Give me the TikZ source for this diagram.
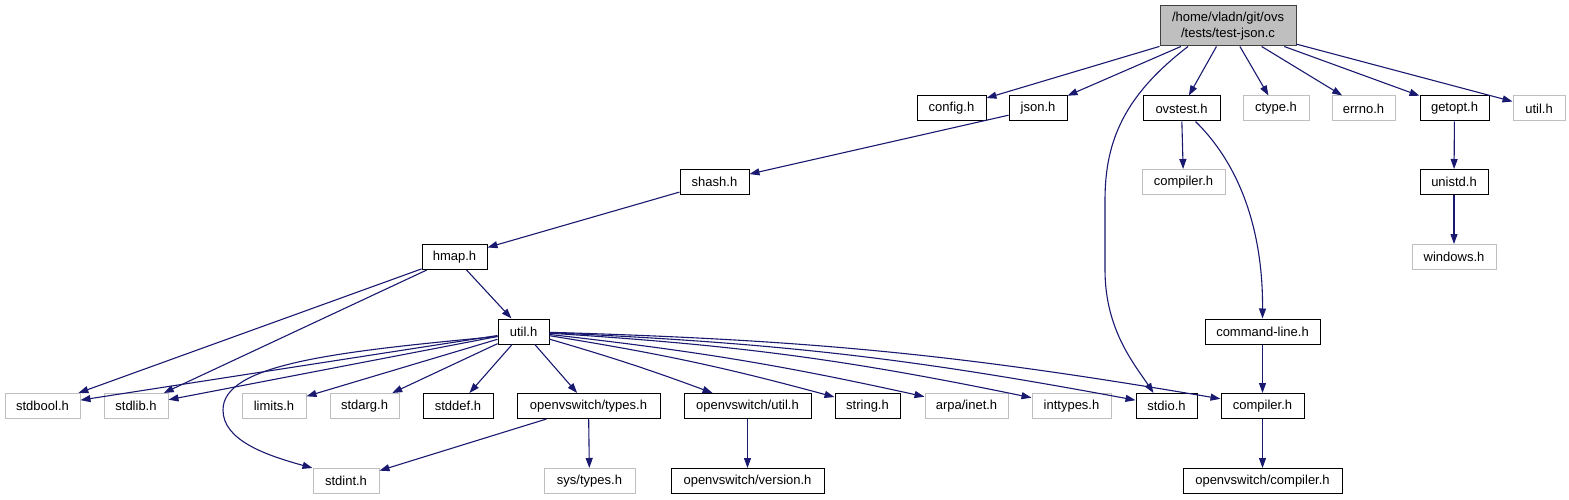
\documentclass[tikz,border=0pt]{standalone}
\usepackage{fontspec}
\setmainfont{Liberation Sans}
\usetikzlibrary{arrows.meta,calc}
\definecolor{edgeblue}{HTML}{191970}
\definecolor{grayb}{HTML}{BFBFBF}
\definecolor{rootborder}{HTML}{404040}
\begin{document}
\begin{tikzpicture}[x=1pt,y=-1pt,
  font=\fontsize{13}{16}\selectfont,
  base/.style={rectangle, inner sep=0pt, line width=1pt, fill=white, minimum height=25pt},
  doc/.style={base, draw=black},
  undoc/.style={base, draw=grayb},
  rootnode/.style={base, draw=rootborder, fill=grayb, align=center, minimum height=40pt},
  dep/.style={draw=edgeblue, line width=1.1pt, -{Triangle[length=10pt,width=7pt]}}
]
\useasboundingbox (0,0) rectangle (1569,500);

% root
\node[rootnode, minimum width=136pt] (root) at (1228,26) {/home/vladn/git/ovs\\/tests/test-json.c};

% row 1
\node[doc,   minimum width=69pt] (config)  at (951.5,108.5) {config.h};
\node[doc,   minimum width=58pt] (json)    at (1038,108.5) {json.h};
\node[doc,   minimum width=77pt] (ovstest) at (1181.5,108.5) {ovstest.h};
\node[undoc, minimum width=66pt] (ctype)   at (1276,108.5) {ctype.h};
\node[undoc, minimum width=63pt] (errno)   at (1363.5,108.5) {errno.h};
\node[doc,   minimum width=69pt] (getopt)  at (1454.5,108.5) {getopt.h};
\node[undoc, minimum width=52pt] (utiltop) at (1539,108.5) {util.h};

% row 2
\node[doc,   minimum width=69pt] (shash)     at (714.5,182) {shash.h};
\node[undoc, minimum width=83pt] (compilerg) at (1183.5,182) {compiler.h};
\node[doc,   minimum width=68pt] (unistd)    at (1454,182) {unistd.h};

% row 3
\node[doc,   minimum width=65pt] (hmap)    at (454.5,257) {hmap.h};
\node[undoc, minimum width=84pt] (windows) at (1454,257) {windows.h};

% row 4
\node[doc, minimum width=51pt]  (util)    at (523.5,331.5) {util.h};
\node[doc, minimum width=115pt] (cmdline) at (1262.5,331.5) {command-line.h};

% row 5
\node[undoc, minimum width=75pt]  (stdbool)   at (42.5,406) {stdbool.h};
\node[undoc, minimum width=64pt]  (stdlib)    at (136,406) {stdlib.h};
\node[undoc, minimum width=64pt]  (limits)    at (274,406) {limits.h};
\node[undoc, minimum width=69pt]  (stdarg)    at (364.5,406) {stdarg.h};
\node[doc,   minimum width=70pt]  (stddef)    at (458,406) {stddef.h};
\node[doc,   minimum width=143pt] (ovstypes)  at (588.5,406) {openvswitch/types.h};
\node[doc,   minimum width=127pt] (ovsutil)   at (747.5,406) {openvswitch/util.h};
\node[doc,   minimum width=65pt]  (string)    at (867.5,406) {string.h};
\node[undoc, minimum width=83pt]  (arpa)      at (966.5,406) {arpa/inet.h};
\node[undoc, minimum width=79pt]  (inttypes)  at (1071.5,406) {inttypes.h};
\node[doc,   minimum width=61pt]  (stdio)     at (1166.5,406) {stdio.h};
\node[doc,   minimum width=83pt]  (compilerb) at (1262.5,406) {compiler.h};

% row 6
\node[undoc, minimum width=66pt]  (stdint)      at (346,481) {stdint.h};
\node[undoc, minimum width=91pt]  (systypes)    at (589.5,481) {sys/types.h};
\node[doc,   minimum width=153pt] (ovsversion)  at (747.5,481) {openvswitch/version.h};
\node[doc,   minimum width=159pt] (ovscompiler) at (1262.5,481) {openvswitch/compiler.h};

% edges from root
\draw[dep] (root) -- (config);
\draw[dep] (root) -- (json);
\draw[dep] (root) -- (ovstest);
\draw[dep] (root) -- (ctype);
\draw[dep] (root) -- (errno);
\draw[dep] (root) -- (getopt);
\draw[dep] (root) -- (utiltop);
\draw[dep] ($(root.south)+(-40,0)$) .. controls (1125,95) and (1105,140) .. (1105,200)
  -- (1105,270) .. controls (1105,330) and (1135,365) .. ($(stdio.north)+(-13,0)$);

% chain
\draw[dep] (json) -- (shash);
\draw[dep] (shash) -- (hmap);
\draw[dep] (hmap) -- (util);
\draw[dep] (hmap) -- (stdbool);
\draw[dep] (hmap) -- (stdlib);

% from util
\draw[dep] (util) -- (stdbool);
\draw[dep] (util) -- (stdlib);
\draw[dep] (util) -- (limits);
\draw[dep] (util) -- (stdarg);
\draw[dep] (util) -- (stddef);
\draw[dep] (util) -- (ovstypes);
\draw[dep] (util) to[bend left=2] (ovsutil);
\draw[dep] (util) to[bend left=3] (string);
\draw[dep] (util) to[bend left=3] (arpa);
\draw[dep] (util) to[bend left=4] (inttypes);
\draw[dep] (util) to[bend left=4] (stdio);
\draw[dep] (util) to[bend left=4] (compilerb);
\draw[dep] ($(util.west)+(0,5)$) .. controls (330,352) and (223,365) .. (223,410)
  .. controls (223,440) and (265,455) .. (stdint.north west);

% ovstest
\draw[dep] (ovstest) -- (compilerg);
\draw[dep] ($(ovstest.south)+(14,0)$) .. controls (1245,170) and (1263,240) .. (cmdline.north);
\draw[dep] (cmdline) -- (compilerb);
\draw[dep] (compilerb) -- (ovscompiler);

% getopt
\draw[dep] (getopt) -- (unistd);
\draw[dep] (unistd) -- (windows);

% types
\draw[dep] (ovstypes) -- (stdint);
\draw[dep] (ovstypes) -- (systypes);
\draw[dep] (ovsutil) -- (ovsversion);
\end{tikzpicture}
\end{document}
